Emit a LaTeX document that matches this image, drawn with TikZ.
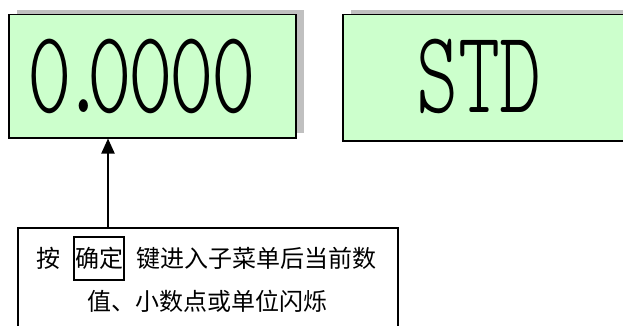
\documentclass[tikz,border=0pt]{standalone}
\usepackage{fontspec}
\usepackage{graphicx}
\usetikzlibrary{arrows.meta,shadows}
\newfontfamily\cjk{Noto Sans CJK SC}
\newfontfamily\displight{lmmonolt10-regular.otf}
\definecolor{lcdgreen}{HTML}{CCFFCC}
\definecolor{shadowgray}{HTML}{C0C0C0}
\tikzset{
  disp/.style={draw=black, line width=1.5pt, fill=lcdgreen, inner sep=0pt,
    drop shadow={shadow xshift=8pt, shadow yshift=5pt, fill=shadowgray, opacity=1}},
  notebox/.style={draw=black, line width=1.5pt, fill=white, inner sep=0pt},
  cjktext/.style={font=\cjk\fontsize{24}{24}\selectfont, inner sep=0pt, text height=20pt, text depth=2pt},
  keybox/.style={cjktext, draw=black, line width=1.5pt, minimum width=50pt, minimum height=43pt, inner xsep=1pt},
  arrowline/.style={draw=black, line width=2pt, -{Triangle[width=13pt,length=15pt]}},
}
\begin{document}
\begin{tikzpicture}[x=1pt,y=-1pt]
\useasboundingbox (0,0) rectangle (623,326);
% displays
\node[disp, minimum width=287pt, minimum height=123pt, anchor=north west] (d1) at (8,14) {};
\node[disp, minimum width=300pt, minimum height=126pt, anchor=north west] (d2) at (342,14) {};
\node[inner sep=0pt, anchor=base west] (v1) at (27.3,113)
  {\scalebox{0.72}[1]{\displight\fontsize{118}{118}\selectfont
   0\kern-14.2pt.\kern-26.5pt0\kern-4.7pt0\kern-4.7pt0\kern-4.7pt0}};
\node[inner sep=0pt, anchor=base] (v2) at (479,113)
  {\scalebox{0.677}[1]{\displight\fontsize{118}{118}\selectfont STD}};
% note box
\node[notebox, minimum width=380pt, minimum height=120pt, anchor=north west] (note) at (17,227) {};
\node[cjktext, anchor=base west] (l1a) at (36,267.5) {按};
\node[keybox] (key) at (99,258.5) {确定};
\node[cjktext, anchor=base west] (l1b) at (136,267.5) {键进入子菜单后当前数};
\node[cjktext, anchor=base] (l2) at (207.5,310) {值、小数点或单位闪烁};
% arrow
\coordinate (a0) at (108,227);
\draw[arrowline] (a0) -- (a0 |- d1.south);
\end{tikzpicture}
\end{document}
